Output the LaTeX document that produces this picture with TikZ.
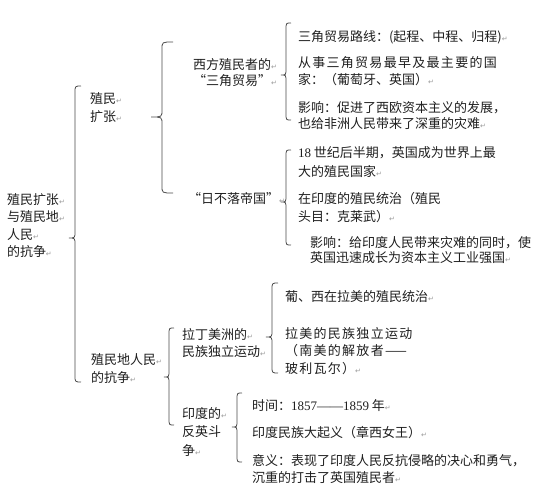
\documentclass[tikz,border=0pt]{standalone}
\usepackage{fontspec}
\newfontfamily\cjk{Noto Sans CJK SC}
\newfontfamily\cjkw[LetterSpace=10]{Noto Sans CJK SC}
\newfontfamily\numf{Liberation Serif}
\newfontfamily\symf{DejaVu Sans}
\newcommand\rtn{{\symf\fontsize{7}{7}\selectfont\color{black!40}↵}}
\newcommand\mybrace[5]{% #1 tip x, #2 right x, #3 top y, #4 tip y, #5 bottom y
  \draw[bracestyle] (#2,#3) .. controls ({(#1+#2)/2},#3) .. ({(#1+#2)/2},#3+7)
    -- ({(#1+#2)/2},#4-7) .. controls ({(#1+#2)/2},#4) .. (#1,#4)
    .. controls ({(#1+#2)/2},#4) .. ({(#1+#2)/2},#4+7)
    -- ({(#1+#2)/2},#5-7) .. controls ({(#1+#2)/2},#5) .. (#2,#5);}
\tikzset{
  txt/.style={inner sep=0pt, outer sep=0pt, anchor=base west, align=left,
    text=black!88, font=\cjk\fontsize{13}{17.5}\selectfont},
  bracestyle/.style={draw=black!70, line width=0.8pt},
}
\begin{document}
\begin{tikzpicture}[x=1pt,y=-1pt]
\useasboundingbox[fill=white] (0,0) rectangle (541,492);

% braces
\mybrace{69}{81}{86}{238}{382}
\mybrace{151}{173}{42}{117}{193}
\mybrace{281}{291}{23}{75}{120}
\mybrace{281}{291}{150}{202}{245}
\mybrace{164}{174}{328}{377}{425}
\mybrace{266}{278}{283}{337}{373}
\mybrace{232}{242}{393}{427}{462}

% level 0 (anchor = baseline of last line)
\node[txt] (root) at (7,256.5) {殖民扩张\rtn\\与殖民地\rtn\\人民\rtn\\的抗争\rtn};

% level 1
\node[txt, font=\cjk\fontsize{13}{18}\selectfont] (kz) at (90,122) {殖民\rtn\\扩张\rtn};
\node[txt, font=\cjk\fontsize{13}{18}\selectfont] (kzz) at (91,382) {殖民地人民\rtn\\的抗争\rtn};

% level 2 (upper)
\node[txt, align=center, font=\cjk\fontsize{13}{16}\selectfont] (xf) at (193,86) {西方殖民者的\rtn\\“三角贸易”\rtn};
\node[txt] (rb) at (188,204) {“日不落帝国”\rtn};

% trade items
\node[txt] (t1) at (298,42) {三角贸易路线：(起程、中程、归程)\rtn};
\node[txt, font=\cjk\fontsize{13}{17}\selectfont] (t2) at (298,85) {{\cjkw 从事三角贸易最早及最主要的国}\\家：（葡萄牙、英国）\rtn};
\node[txt, font=\cjk\fontsize{13}{15.5}\selectfont] (t3) at (298,128.5) {影响：促进了西欧资本主义的发展，\\也给非洲人民带来了深重的灾难\rtn};

% empire items
\node[txt, font=\cjk\fontsize{13}{18}\selectfont] (e1) at (298,176) {{\numf 18} 世纪后半期，英国成为世界上最\\大的殖民国家\rtn};
\node[txt, font=\cjk\fontsize{13}{18}\selectfont] (e2) at (298,222) {在印度的殖民统治（殖民\\头目：克莱武）\rtn};
\node[txt, font=\cjk\fontsize{13}{15.5}\selectfont] (e3) at (310,262.5) {影响：给印度人民带来灾难的同时，使\\英国迅速成长为资本主义工业强国\rtn};

% level 2 (lower)
\node[txt] (lm) at (182,356.5) {拉丁美洲的\rtn\\民族独立运动\rtn};
\node[txt, font=\cjk\fontsize{13}{18.5}\selectfont] (yd) at (182,455) {印度的\rtn\\反英斗\\争\rtn};

% latin items
\node[txt] (l1) at (285,301) {葡、西在拉美的殖民统治\rtn};
\node[txt, font=\cjkw\fontsize{13}{17.5}\selectfont] (l2) at (285,373) {拉美的民族独立运动\\（南美的解放者——\\玻利瓦尔）\rtn};

% india items
\node[txt] (i1) at (252,410) {时间：{\numf 1857——1859} 年\rtn};
\node[txt] (i2) at (252,437) {印度民族大起义（章西女王）\rtn};
\node[txt] (i3) at (252,482.5) {意义：表现了印度人民反抗侵略的决心和勇气，\\沉重的打击了英国殖民者\rtn};
\end{tikzpicture}
\end{document}
